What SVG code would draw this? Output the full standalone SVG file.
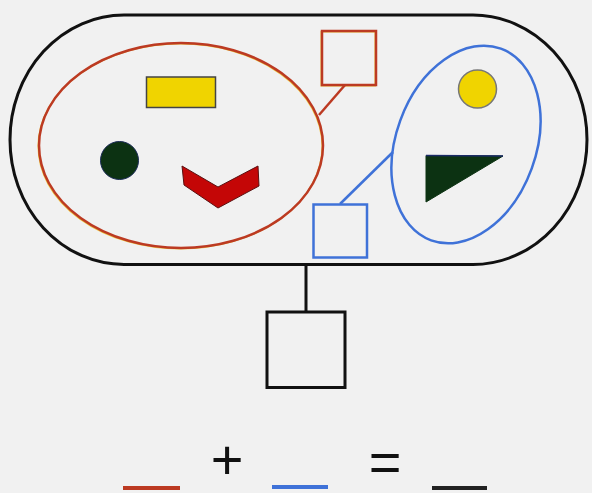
<svg xmlns="http://www.w3.org/2000/svg" width="592" height="493" viewBox="0 0 592 493">
<style>
.red{fill:none;stroke:#bc3a22;stroke-width:2.5}
.halo{fill:none;stroke:#ecc440;stroke-width:1.5}
.blue{fill:none;stroke:#3f72d8;stroke-width:2.5}
.blk{fill:none;stroke:#111;stroke-width:3}
.sym{font-family:"Liberation Sans",Arial,sans-serif;font-size:56px;fill:#111;text-anchor:middle}
</style>
<rect width="592" height="493" fill="#f1f1f1"/>
<g id="container">
<rect x="10" y="15" width="577" height="249.5" rx="114" ry="124.75" class="blk"/>
</g>
<g id="red-group">
<ellipse cx="180.2" cy="146.3" rx="142" ry="102.5" class="halo"/>
<ellipse cx="181" cy="145.5" rx="142" ry="102.5" class="red"/>
<rect x="146.5" y="77" width="69" height="30.5" fill="#f0d400" stroke="#444" stroke-width="1.5"/>
<circle cx="119.5" cy="160.5" r="19" fill="#0c3212" stroke="#1a2a55" stroke-width="1"/>
<polygon points="182,166 218,187 258,166 259,186 218,208 184,185" fill="#c40606" stroke="#5a1010" stroke-width="1"/>
</g>
<g id="red-square">
<rect x="321.2" y="31.8" width="54" height="54" class="halo"/>
<rect x="322" y="31" width="54" height="54" class="red"/>
</g>
<g id="blue-group">
<ellipse cx="466" cy="144.5" rx="70" ry="102" transform="rotate(20 466 144.5)" class="blue"/>
<circle cx="477.5" cy="89" r="19" fill="#f0d400" stroke="#777" stroke-width="1.5"/>
<polygon points="426,155.5 503,156 426,202" fill="#0c3212" stroke="#0c3212" stroke-width="1"/>
<line x1="426" y1="155.5" x2="503" y2="156" stroke="#1a2a66" stroke-width="1.5"/>
</g>
<g id="blue-square">
<rect x="313.5" y="204.5" width="53.5" height="53" class="blue"/>
</g>
<g id="result-square">
<rect x="267" y="312" width="78" height="75.5" class="blk"/>
</g>
<g id="connectors">
<line x1="345" y1="85" x2="319" y2="115" class="red"/>
<line x1="340" y1="204" x2="393" y2="152" class="blue"/>
<line x1="306" y1="264" x2="306" y2="312" class="blk"/>
</g>
<g id="legend">
<line x1="123" y1="488" x2="180" y2="488" stroke="#bc3a22" stroke-width="4"/>
<text x="227" y="479" class="sym">+</text>
<line x1="272" y1="487" x2="328" y2="487" stroke="#3f72d8" stroke-width="4"/>
<text x="385" y="481" class="sym">=</text>
<line x1="432" y1="488" x2="487" y2="488" stroke="#222" stroke-width="4"/>
</g>
</svg>
